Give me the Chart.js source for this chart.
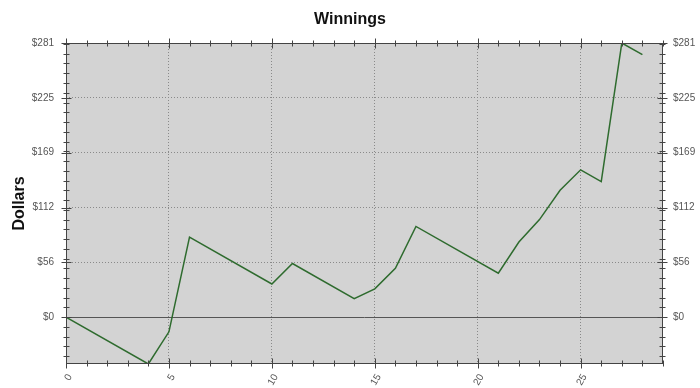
<!DOCTYPE html>
<html>
<head>
<meta charset="utf-8">
<script src="https://cdn.jsdelivr.net/npm/chart.js@4/dist/chart.umd.min.js"></script>
<style>
	body { margin: 0; background: #fff; }
	#wrap { width: 700px; height: 388px; }
</style>
</head>
<body>
<div id="wrap"><canvas id="chart1"></canvas></div>
<script>
// values
var days = [0, 4, 5, 6, 10, 11, 14, 15, 16, 17, 21, 22, 23, 24, 25, 26, 27, 28];
var winnings = [0, -48, -15, 82, 34, 55, 19, 29, 50, 93, 45, 77, 100, 130, 151, 139, 281, 269];
var xTicks = [0, 5, 10, 15, 20, 25];
var yTicks = [0, 56.2, 112.4, 168.6, 224.8, 281];
var yTickLabels = ['$0', '$56', '$112', '$169', '$225', '$281'];

var points = days.map(function(d, i) {
	return { x: d, y: winnings[i] };
});

var plotFrame = {
	id: 'plotFrame',
	beforeDraw: function(chart) {
		var a = chart.chartArea, ctx = chart.ctx;
		ctx.save();
		ctx.fillStyle = '#d3d3d3';
		ctx.fillRect(a.left, a.top, a.right - a.left, a.bottom - a.top);
		ctx.restore();
	},
	beforeDatasetsDraw: function(chart) {
		var a = chart.chartArea, ctx = chart.ctx;
		var y0 = Math.round(chart.scales.y.getPixelForValue(0)) + 0.5;
		ctx.save();
		ctx.strokeStyle = '#555';
		ctx.lineWidth = 1;
		ctx.beginPath();
		ctx.moveTo(a.left, y0);
		ctx.lineTo(a.right, y0);
		ctx.stroke();
		ctx.restore();
	},
	afterDatasetsDraw: function(chart) {
		var a = chart.chartArea, ctx = chart.ctx;
		var xs = chart.scales.x, ys = chart.scales.y;
		var L = Math.round(a.left) + 0.5, R = Math.round(a.right) - 0.5;
		var T = Math.round(a.top) + 0.5, B = Math.round(a.bottom) - 0.5;
		ctx.save();
		ctx.strokeStyle = '#444';
		ctx.lineWidth = 1;
		ctx.strokeRect(L, T, R - L, B - T);
		ctx.beginPath();
		// x ticks, every day, longer at the labelled ones
		for (var d = 0; d <= 29; d++) {
			var px = Math.round(xs.getPixelForValue(d)) + 0.5;
			var len = xTicks.indexOf(d) >= 0 ? 5 : 3;
			ctx.moveTo(px, B - len); ctx.lineTo(px, B + len);
			ctx.moveTo(px, T - len); ctx.lineTo(px, T + len);
		}
		// y ticks, every $10, longer at the labelled ones
		for (var v = -40; v <= 280; v += 10) {
			var py = Math.round(ys.getPixelForValue(v)) + 0.5;
			ctx.moveTo(L - 3, py); ctx.lineTo(L + 3, py);
			ctx.moveTo(R - 3, py); ctx.lineTo(R + 3, py);
		}
		yTicks.forEach(function(t) {
			var py = Math.round(ys.getPixelForValue(t)) + 0.5;
			ctx.moveTo(L - 5, py); ctx.lineTo(L + 5, py);
			ctx.moveTo(R - 5, py); ctx.lineTo(R + 5, py);
		});
		ctx.stroke();
		ctx.restore();
	}
};

function setYTicks(scale) {
	scale.ticks = yTicks.map(function(v) { return { value: v }; });
}
function fmtY(value) {
	var i = yTicks.indexOf(value);
	return i >= 0 ? yTickLabels[i] : '';
}

var ctx = document.getElementById('chart1').getContext('2d');
new Chart(ctx, {
	type: 'line',
	data: {
		datasets: [{
			label: 'Winnings',
			data: points,
			borderColor: '#2e6b2e',
			borderWidth: 1.5,
			pointRadius: 0,
			tension: 0,
			fill: false
		}]
	},
	options: {
		responsive: true,
		maintainAspectRatio: false,
		animation: false,
		layout: { padding: 0 },
		plugins: {
			legend: { display: false },
			tooltip: { enabled: false },
			title: {
				display: true,
				text: 'Winnings',
				color: '#111',
				font: { family: 'Liberation Sans, Arial', size: 16, weight: 'bold' },
				padding: { top: 10, bottom: 13.8 }
			}
		},
		scales: {
			x: {
				type: 'linear',
				position: 'bottom',
				min: 0,
				max: 29,
				afterBuildTicks: function(scale) {
					scale.ticks = xTicks.map(function(v) { return { value: v }; });
				},
				afterFit: function(scale) { scale.height = 24; },
				grid: { color: '#8a8a8a', drawTicks: false },
				border: { display: false, dash: [1, 2] },
				ticks: {
					color: '#555',
					font: { family: 'Liberation Sans, Arial', size: 10 },
					minRotation: 60,
					maxRotation: 60,
					labelOffset: 4,
					padding: 8
				}
			},
			y: {
				position: 'left',
				min: -48,
				max: 281,
				afterBuildTicks: setYTicks,
				afterFit: function(scale) { scale.width = 66; },
				grid: { color: '#8a8a8a', drawTicks: false },
				border: { display: false, dash: [1, 2] },
				ticks: {
					color: '#555',
					font: { family: 'Liberation Sans, Arial', size: 10 },
					padding: 12,
					callback: fmtY
				},
				title: {
					display: true,
					text: 'Dollars',
					color: '#111',
					font: { family: 'Liberation Sans, Arial', size: 16, weight: 'bold' },
					padding: { top: 10, bottom: 0 }
				}
			},
			y2: {
				position: 'right',
				min: -48,
				max: 281,
				afterBuildTicks: setYTicks,
				afterFit: function(scale) { scale.width = 37; },
				grid: { display: false, drawTicks: false },
				border: { display: false },
				ticks: {
					color: '#555',
					font: { family: 'Liberation Sans, Arial', size: 10 },
					padding: 10,
					callback: fmtY
				}
			}
		}
	},
	plugins: [plotFrame]
});
</script>
</body>
</html>
